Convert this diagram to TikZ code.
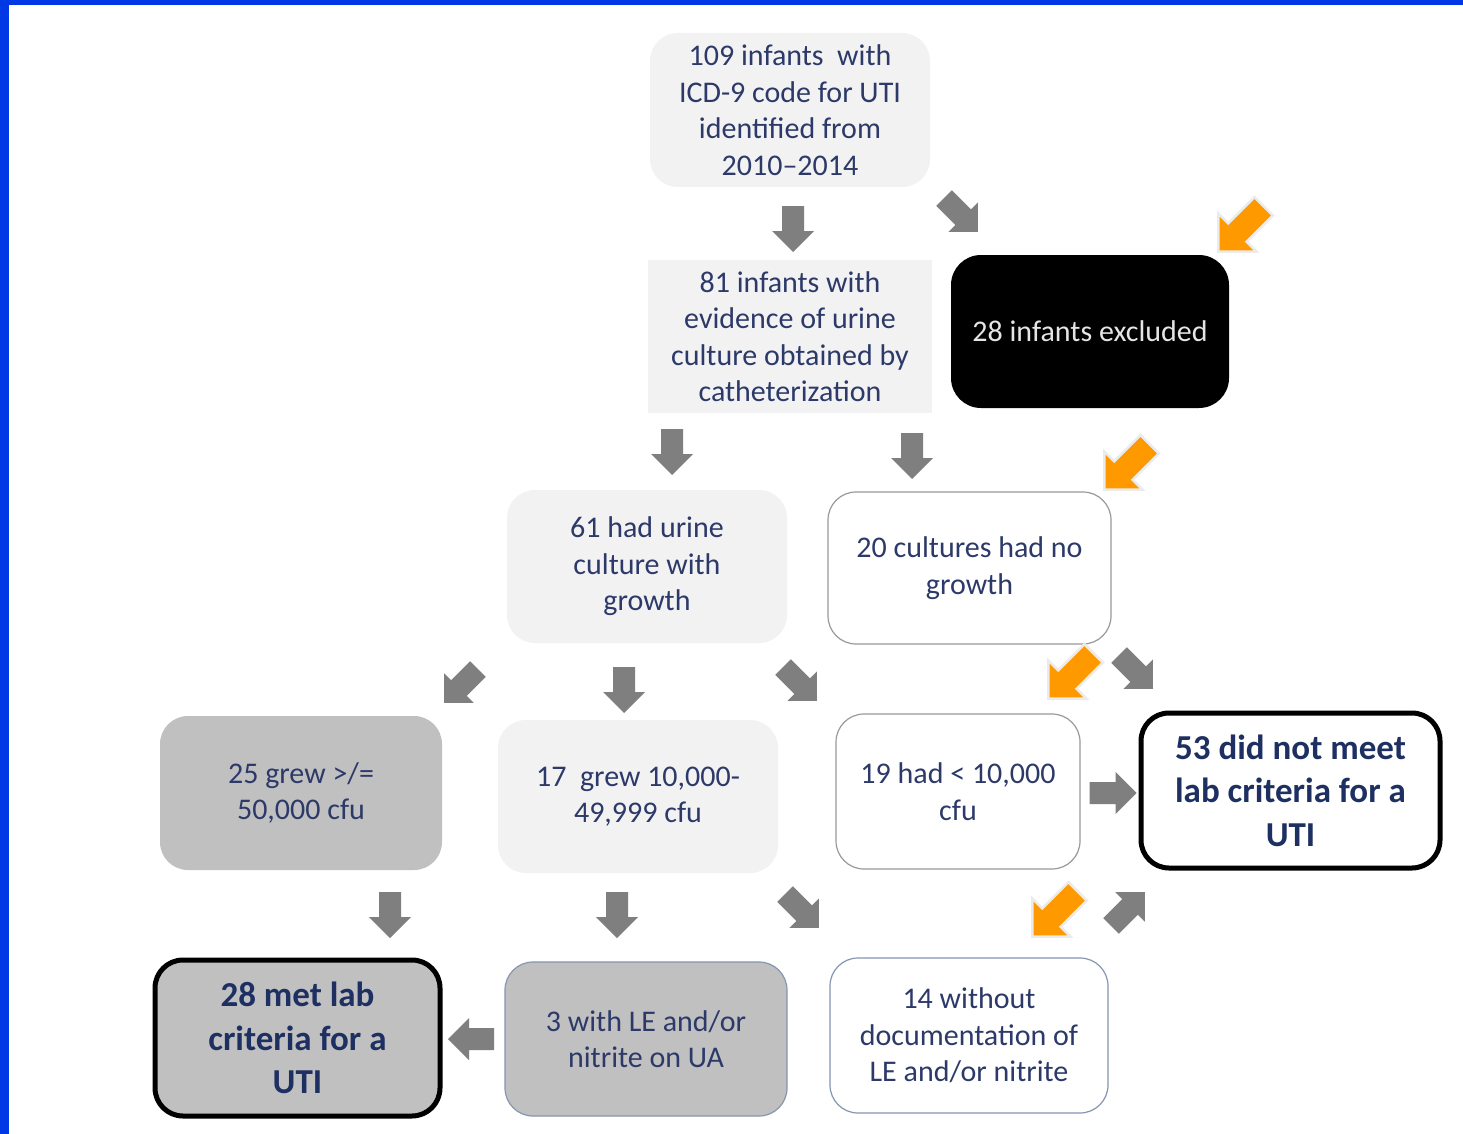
\documentclass[tikz,border=0pt]{standalone}
\usepackage{fontspec}
\setmainfont{Carlito}
\definecolor{navy}{RGB}{45,58,105}
\definecolor{navyb}{RGB}{30,48,98}
\definecolor{lightbox}{RGB}{242,242,242}
\definecolor{midbox}{RGB}{192,192,192}
\definecolor{arrowgray}{RGB}{127,127,127}
\definecolor{orangearrow}{RGB}{255,153,0}
\definecolor{frameblue}{RGB}{0,56,230}
\definecolor{bluegrayline}{RGB}{132,150,176}
\tikzset{
  box/.style={rectangle, rounded corners=28pt, align=center, inner sep=0pt,
    text=navy, font=\fontsize{30}{36.5}\selectfont},
  boldbox/.style={box, font=\fontsize{35}{43.5}\selectfont\bfseries, text=navyb, line width=5pt, draw=black},
  garrow/.style={fill=arrowgray},
  oarrow/.style={fill=orangearrow, draw=black!8, line width=2.5pt, line join=miter}
}
% block arrow: x, y, angle, style, length, half shaft, half head, head length
\newcommand{\blockarr}[8]{%
  \path[#4, shift={(#1,#2)}, rotate=#3]
    (-#5/2,-#6) -- (#5/2-#8,-#6) -- (#5/2-#8,-#7) -- (#5/2,0) -- (#5/2-#8,#7) -- (#5/2-#8,#6) -- (-#5/2,#6) -- cycle;}
\newcommand{\grayarr}[4][46]{\blockarr{#2}{#3}{#4}{garrow}{#1}{11}{21}{21}}
\newcommand{\orangearr}[3]{\blockarr{#1}{#2}{#3}{oarrow}{64}{13}{27}{27}}
\begin{document}
\begin{tikzpicture}[x=1pt,y=-1pt]
\useasboundingbox (0,0) rectangle (1463,1134);
\fill[white] (0,0) rectangle (1463,1134);
\fill[frameblue] (0,0) rectangle (1463,5);
\fill[frameblue] (0,0) rectangle (9,1134);

% boxes
\node[box, fill=lightbox, minimum width=280pt, minimum height=154pt] (top) at (790,110)
  {109 infants\ \ with\\ICD-9 code for UTI\\identified from\\2010--2014};
\node[box, rounded corners=0pt, fill=lightbox, minimum width=284pt, minimum height=153pt] (b81) at (790,336.5)
  {81 infants with\\evidence of urine\\culture obtained by\\catheterization};
\node[box, fill=black, text=black!10, rounded corners=30pt, minimum width=278pt, minimum height=153pt] (exc) at (1090,331.5)
  {28 infants excluded};
\node[box, fill=lightbox, minimum width=280pt, minimum height=153pt] (b61) at (647,566.5)
  {61 had urine\\culture with\\growth};
\node[box, fill=white, draw=black!40, line width=1.2pt, minimum width=283pt, minimum height=152pt] (b20) at (969.5,568)
  {20 cultures had no\\growth};
\node[box, fill=midbox, minimum width=282pt, minimum height=154pt] (b25) at (301,793)
  {25 grew >/=\\50,000 cfu};
\node[box, fill=lightbox, minimum width=280pt, minimum height=153pt] (b17) at (638,796.5)
  {17\ \ grew 10,000-\\49,999 cfu};
\node[box, fill=white, draw=black!40, line width=1.2pt, minimum width=244pt, minimum height=155pt] (b19) at (958,791.5)
  {19 had < 10,000\\cfu};
\node[boldbox, fill=white, minimum width=299pt, minimum height=155pt] (b53) at (1290.5,790.5)
  {53 did not meet\\lab criteria for a\\UTI};
\node[boldbox, fill=midbox, minimum width=285pt, minimum height=156pt] (met) at (297.5,1038)
  {28 met lab\\criteria for a\\UTI};
\node[box, fill=midbox, draw=bluegrayline, line width=1.2pt, minimum width=282pt, minimum height=154pt] (b3) at (646,1039)
  {3 with LE and/or\\nitrite on UA};
\node[box, fill=white, draw=bluegrayline, line width=1.2pt, minimum width=278pt, minimum height=155pt] (b14) at (969,1035.5)
  {14 without\\documentation of\\LE and/or nitrite};

% gray block arrows
\grayarr{793}{229}{-90}
\grayarr[48]{961}{215}{-45}
\grayarr{672}{452}{-90}
\grayarr{912}{456}{-90}
\grayarr[48]{461}{686}{-135}
\grayarr{624}{690}{-90}
\grayarr[48]{800}{684}{-45}
\grayarr[48]{1136}{672}{-45}
\grayarr[47]{1113}{793}{0}
\grayarr{390}{915}{-90}
\grayarr{617}{915}{-90}
\grayarr[48]{802}{911}{-45}
\grayarr[48]{1128}{909}{45}
\grayarr{471}{1039}{180}

% orange block arrows
\orangearr{1241}{229}{-135}
\orangearr{1127}{467}{-135}
\orangearr{1071}{676}{-135}
\orangearr{1055}{914}{-135}
\end{tikzpicture}
\end{document}
